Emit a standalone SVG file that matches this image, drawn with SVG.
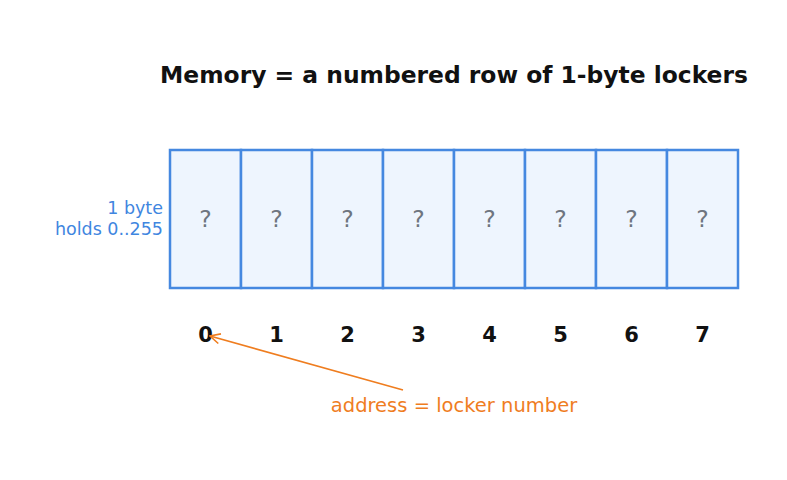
<svg xmlns="http://www.w3.org/2000/svg" width="787" height="480" viewBox="0 0 787 480">
<defs>
<style>
text{font-family:"DejaVu Sans",sans-serif}
.cell{fill:#eef5fe;stroke:#4588e0;stroke-width:2.5}
.q{font-size:23.5px;fill:#6e7580;text-anchor:middle}
.n{font-size:21px;font-weight:bold;fill:#111;text-anchor:middle}
.lbl{font-size:17.5px;fill:#3f86e0;text-anchor:end}
</style>
<marker id="ah" markerWidth="12" markerHeight="12" refX="11" refY="6" orient="auto" markerUnits="userSpaceOnUse">
<path d="M1,1 L11,6 L1,11" fill="none" stroke="#ef7d1f" stroke-width="1.6"/>
</marker>
</defs>
<rect width="787" height="480" fill="#fff"/>
<text x="454" y="83" font-size="23.4" font-weight="bold" fill="#111" text-anchor="middle">Memory = a numbered row of 1-byte lockers</text>
<g id="label"><text class="lbl" x="163" y="214">1 byte</text><text class="lbl" x="163" y="235">holds 0..255</text></g>
<g id="cell0"><rect class="cell" x="170" y="150" width="71" height="138"/><text class="q" x="205.5" y="227">?</text><text class="n" x="205.5" y="342">0</text></g>
<g id="cell1"><rect class="cell" x="241" y="150" width="71" height="138"/><text class="q" x="276.5" y="227">?</text><text class="n" x="276.5" y="342">1</text></g>
<g id="cell2"><rect class="cell" x="312" y="150" width="71" height="138"/><text class="q" x="347.5" y="227">?</text><text class="n" x="347.5" y="342">2</text></g>
<g id="cell3"><rect class="cell" x="383" y="150" width="71" height="138"/><text class="q" x="418.5" y="227">?</text><text class="n" x="418.5" y="342">3</text></g>
<g id="cell4"><rect class="cell" x="454" y="150" width="71" height="138"/><text class="q" x="489.5" y="227">?</text><text class="n" x="489.5" y="342">4</text></g>
<g id="cell5"><rect class="cell" x="525" y="150" width="71" height="138"/><text class="q" x="560.5" y="227">?</text><text class="n" x="560.5" y="342">5</text></g>
<g id="cell6"><rect class="cell" x="596" y="150" width="71" height="138"/><text class="q" x="631.5" y="227">?</text><text class="n" x="631.5" y="342">6</text></g>
<g id="cell7"><rect class="cell" x="667" y="150" width="71" height="138"/><text class="q" x="702.5" y="227">?</text><text class="n" x="702.5" y="342">7</text></g>
<g id="connectors"><line x1="403" y1="390" x2="210" y2="336" stroke="#ef7d1f" stroke-width="1.6" marker-end="url(#ah)"/></g>
<g id="note"><text x="454" y="412" font-size="19.5" fill="#ef7d1f" text-anchor="middle">address = locker number</text></g>
</svg>
